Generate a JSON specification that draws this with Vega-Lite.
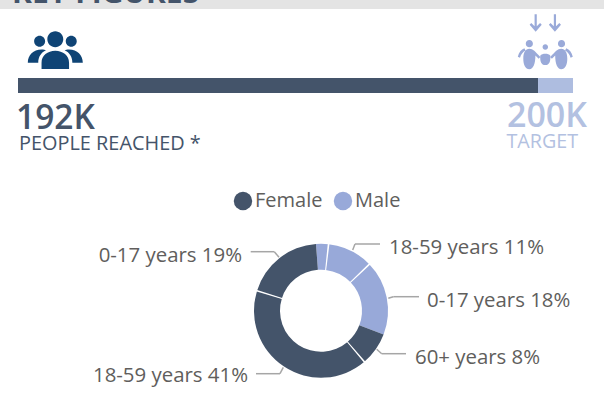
{"$schema":"https://vega.github.io/schema/vega-lite/v6.json","width":604,"height":406,"padding":0,"autosize":"none","background":"white","config":{"view":{"stroke":null},"font":"Open Sans"},
"datasets":{"progress":[{"measure":"Reached","from":0,"to":187.4},{"measure":"Target","from":187.4,"to":200}],
"slices":[{"age":"60+ years","gender":"Male","pct":3,"rank":1},{"age":"18-59 years","gender":"Male","pct":11,"rank":2,"label":"18-59 years 11%"},{"age":"0-17 years","gender":"Male","pct":18,"rank":3,"label":"0-17 years 18%"},{"age":"60+ years","gender":"Female","pct":8,"rank":4,"label":"60+ years 8%"},{"age":"18-59 years","gender":"Female","pct":41,"rank":5,"label":"18-59 years 41%"},{"age":"0-17 years","gender":"Female","pct":19,"rank":6,"label":"0-17 years 19%"}],
"separators":[{"from":2.8,"to":3.2},{"from":13.8,"to":14.2},{"from":39.8,"to":40.2},{"from":80.8,"to":81.2}]},
"layer":[
{"data":{"values":[{}]},"mark":{"type":"rect","fill":"#e4e4e4"},"encoding":{"x":{"value":0},"x2":{"value":604},"y":{"value":0},"y2":{"value":9}}},
{"data":{"values":[{"t":"KEY FIGURES"}]},"mark":{"type":"text","align":"left","baseline":"alphabetic","x":12,"y":3,"fontSize":30,"fontWeight":"bold","fill":"#44546a"},"encoding":{"text":{"field":"t"}}},
{"data":{"values":[{"icon":"people"}]},"mark":{"type":"point","filled":true,"opacity":1,"size":3025,"x":55.3,"y":50.3,"fill":"#0f4475","strokeWidth":0,"shape":"M-.29 -.4A.29 .29 0 1 1 .29 -.4A.29 .29 0 1 1 -.29 -.4ZM-.77 -.33A.2 .2 0 1 1 -.37 -.33A.2 .2 0 1 1 -.77 -.33ZM.38 -.33A.2 .2 0 1 1 .78 -.33A.2 .2 0 1 1 .38 -.33ZM-.5 .68V.45C-.5 .2 -.28 .02 0 .02C.28 .02 .5 .2 .5 .45V.68ZM-1 .45C-1 .17 -.8 -.03 -.5 -.03C-.42 -.03 -.38 -.02 -.34 0C-.52 .08 -.62 .25 -.62 .45ZM1 .45C1 .17 .8 -.03 .5 -.03C.42 -.03 .38 -.02 .34 0C.52 .08 .62 .25 .62 .45Z"},"encoding":{}},
{"data":{"values":[{"icon":"family"}]},"mark":{"type":"point","filled":true,"opacity":1,"size":3025,"x":545.3,"y":41.7,"fill":"#9aaad9","strokeWidth":0,"shape":"M-.39 -1H-.31V-.56L-.19 -.68L-.13 -.62L-.35 -.36L-.57 -.62L-.51 -.68L-.39 -.56ZM.31 -1H.39V-.56L.51 -.68L.57 -.62L.35 -.36L.13 -.62L.19 -.68L.31 -.56ZM-.71 .07A.13 .13 0 1 1 -.45 .07A.13 .13 0 1 1 -.71 .07ZM.46 .07A.13 .13 0 1 1 .72 .07A.13 .13 0 1 1 .46 .07ZM-.1 .19A.1 .1 0 1 1 .1 .19A.1 .1 0 1 1 -.1 .19ZM-.8 .62C-.8 .4 -.72 .26 -.58 .26C-.44 .26 -.37 .36 -.18 .56L-.24 .62L-.36 .5C-.36 .8 -.44 1 -.58 1C-.72 1 -.8 .85 -.8 .62ZM.8 .62C.8 .4 .72 .26 .58 .26C.44 .26 .37 .36 .18 .56L.24 .62L.36 .5C.36 .8 .44 1 .58 1C.72 1 .8 .85 .8 .62ZM-.18 .5C-.12 .42 .12 .42 .18 .5C.2 .7 .15 .85 0 .85C-.15 .85 -.2 .7 -.18 .5ZM-1 .55C-.96 .38 -.88 .28 -.76 .24L-.72 .32C-.82 .38 -.88 .46 -.92 .58ZM1 .55C.96 .38 .88 .28 .76 .24L.72 .32C.82 .38 .88 .46 .92 .58Z"},"encoding":{}},
{"data":{"name":"progress"},"mark":{"type":"bar"},"encoding":{"x":{"field":"from","type":"quantitative","scale":{"domain":[0,200],"range":[18,573]},"axis":null},"x2":{"field":"to"},"y":{"value":78},"y2":{"value":93},"fill":{"field":"measure","type":"nominal","scale":{"domain":["Reached","Target"],"range":["#44546a","#aebde0"]},"legend":null}}},
{"data":{"values":[{"t":"192K"}]},"mark":{"type":"text","align":"left","baseline":"alphabetic","x":16,"y":129,"fontSize":33.5,"fontWeight":600,"fill":"#44546a"},"encoding":{"text":{"field":"t"}}},
{"data":{"values":[{"t":"PEOPLE REACHED *"}]},"mark":{"type":"text","align":"left","baseline":"alphabetic","x":19,"y":150,"fontSize":19.9,"fill":"#44546a"},"encoding":{"text":{"field":"t"}}},
{"data":{"values":[{"t":"200K"}]},"mark":{"type":"text","align":"right","baseline":"alphabetic","x":587,"y":127,"fontSize":34,"fontWeight":600,"fill":"#b3c1e1"},"encoding":{"text":{"field":"t"}}},
{"data":{"values":[{"t":"TARGET"}]},"mark":{"type":"text","align":"right","baseline":"alphabetic","x":578,"y":148,"fontSize":19.7,"fill":"#b3c1e1"},"encoding":{"text":{"field":"t"}}},
{"data":{"name":"slices"},"mark":{"type":"arc","innerRadius":41,"outerRadius":67},"encoding":{"x":{"value":321},"y":{"value":310.7},"theta":{"field":"pct","type":"quantitative","stack":true,"scale":{"domain":[0,100],"range":[-0.075,6.208]}},"order":{"field":"rank","type":"quantitative"},"color":{"field":"gender","type":"nominal","scale":{"domain":["Female","Male"],"range":["#44546a","#98a9d9"]},"legend":{"title":null,"orient":"none","legendX":233,"legendY":191,"direction":"horizontal","symbolType":"circle","symbolSize":340,"labelFontSize":20,"labelColor":"#605e5c","labelFont":"Open Sans","columnPadding":10,"labelOffset":2,"symbolStrokeWidth":0}}}},
{"data":{"name":"separators"},"mark":{"type":"arc","innerRadius":40,"outerRadius":68,"fill":"white"},"encoding":{"x":{"value":321},"y":{"value":310.7},"theta":{"field":"from","type":"quantitative","stack":null},"theta2":{"field":"to"}}},
{"data":{"name":"slices"},"transform":[{"filter":"datum.rank==2"}],"mark":{"type":"text","align":"left","baseline":"middle","x":389,"y":248,"fontSize":20.4,"fill":"#605e5c"},"encoding":{"text":{"field":"label"}}},
{"data":{"name":"slices"},"transform":[{"filter":"datum.rank==3"}],"mark":{"type":"text","align":"left","baseline":"middle","x":427,"y":301,"fontSize":20.4,"fill":"#605e5c"},"encoding":{"text":{"field":"label"}}},
{"data":{"name":"slices"},"transform":[{"filter":"datum.rank==4"}],"mark":{"type":"text","align":"left","baseline":"middle","x":415,"y":358,"fontSize":20.4,"fill":"#605e5c"},"encoding":{"text":{"field":"label"}}},
{"data":{"name":"slices"},"transform":[{"filter":"datum.rank==5"}],"mark":{"type":"text","align":"right","baseline":"middle","x":248,"y":376,"fontSize":20.4,"fill":"#605e5c"},"encoding":{"text":{"field":"label"}}},
{"data":{"name":"slices"},"transform":[{"filter":"datum.rank==6"}],"mark":{"type":"text","align":"right","baseline":"middle","x":242,"y":256,"fontSize":20.4,"fill":"#605e5c"},"encoding":{"text":{"field":"label"}}},
{"data":{"values":[{}]},"mark":{"type":"rule","stroke":"#a6a6a6","strokeWidth":1.5},"encoding":{"x":{"value":352.7},"y":{"value":250},"x2":{"value":355},"y2":{"value":244}}},
{"data":{"values":[{}]},"mark":{"type":"rule","stroke":"#a6a6a6","strokeWidth":1.5},"encoding":{"x":{"value":355},"y":{"value":244},"x2":{"value":380},"y2":{"value":244}}},
{"data":{"values":[{}]},"mark":{"type":"rule","stroke":"#a6a6a6","strokeWidth":1.5},"encoding":{"x":{"value":388.3},"y":{"value":298.3},"x2":{"value":393.3},"y2":{"value":296.7}}},
{"data":{"values":[{}]},"mark":{"type":"rule","stroke":"#a6a6a6","strokeWidth":1.5},"encoding":{"x":{"value":393.3},"y":{"value":296.7},"x2":{"value":419},"y2":{"value":296.7}}},
{"data":{"values":[{}]},"mark":{"type":"rule","stroke":"#a6a6a6","strokeWidth":1.5},"encoding":{"x":{"value":376.7},"y":{"value":349.3},"x2":{"value":381.7},"y2":{"value":353.7}}},
{"data":{"values":[{}]},"mark":{"type":"rule","stroke":"#a6a6a6","strokeWidth":1.5},"encoding":{"x":{"value":381.7},"y":{"value":353.7},"x2":{"value":406},"y2":{"value":353.7}}},
{"data":{"values":[{}]},"mark":{"type":"rule","stroke":"#a6a6a6","strokeWidth":1.5},"encoding":{"x":{"value":283.3},"y":{"value":367.3},"x2":{"value":280},"y2":{"value":373.7}}},
{"data":{"values":[{}]},"mark":{"type":"rule","stroke":"#a6a6a6","strokeWidth":1.5},"encoding":{"x":{"value":280},"y":{"value":373.7},"x2":{"value":256},"y2":{"value":373.7}}},
{"data":{"values":[{}]},"mark":{"type":"rule","stroke":"#a6a6a6","strokeWidth":1.5},"encoding":{"x":{"value":279},"y":{"value":257.3},"x2":{"value":274.3},"y2":{"value":251.7}}},
{"data":{"values":[{}]},"mark":{"type":"rule","stroke":"#a6a6a6","strokeWidth":1.5},"encoding":{"x":{"value":274.3},"y":{"value":251.7},"x2":{"value":250.7},"y2":{"value":251.7}}}
],"resolve":{"scale":{"x":"independent","color":"independent"}}}
